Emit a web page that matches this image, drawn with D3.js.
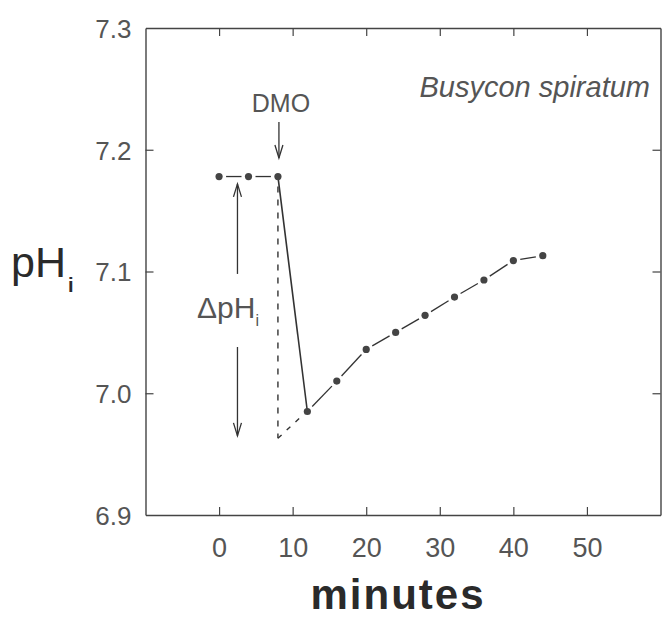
<!DOCTYPE html>
<html><head><meta charset="utf-8">
<script src="https://cdn.jsdelivr.net/npm/d3@7/dist/d3.min.js"></script>
<style>
body{margin:0;background:#fff;}
svg{display:block;}
</style></head>
<body>
<svg id="chart" width="662" height="619"></svg>
<script>
// ---- data ----
const minutes = [0, 4, 8, 12, 16, 20, 24, 28, 32, 36, 40, 44];
const phValues = [7.178, 7.178, 7.178, 6.985, 7.010, 7.036, 7.050, 7.064, 7.079, 7.093, 7.109, 7.113];
const xTicks = [0, 10, 20, 30, 40, 50];
const yTicks = [6.9, 7.0, 7.1, 7.2, 7.3];
const yInnerTicks = [7.0, 7.1, 7.2];
// annotation values (data units)
const dmoTime = 8;
const extrapStart = [8, 6.963];
const deltaArrowX = 2.5;
const deltaUp = [7.098, 7.172];     // shaft start, tip
const deltaDown = [7.038, 6.965];   // shaft start, tip

const svg = d3.select("#chart");
const x = d3.scaleLinear().domain([-10, 60]).range([145.5, 660.5]);
const y = d3.scaleLinear().domain([6.9, 7.3]).range([515, 28]);

const ink = "#333";
const labelFill = "#555";
const fontTick = "'Liberation Sans', Arial, sans-serif";

function styleAxis(g){
  g.selectAll("path.domain").attr("stroke", "#444").attr("stroke-width", 1.4);
  g.selectAll(".tick line").attr("stroke", "#444").attr("stroke-width", 1.2);
  g.selectAll("text").attr("fill", labelFill).attr("font-family", fontTick).attr("font-size", 26);
}

// axes (frame)
svg.append("g").attr("transform", `translate(0,${y(6.9)})`)
  .call(d3.axisBottom(x).tickValues(xTicks).tickSize(-8).tickSizeOuter(0).tickPadding(23).tickFormat(d3.format("d")))
  .call(styleAxis)
  .call(g => g.selectAll("text").attr("font-size", 27));
svg.append("g").attr("transform", `translate(0,${y(7.3)})`)
  .call(d3.axisTop(x).tickValues(xTicks).tickSize(-8).tickSizeOuter(0).tickFormat(""))
  .call(styleAxis);
svg.append("g").attr("transform", `translate(${x(-10)},0)`)
  .call(d3.axisLeft(y).tickValues(yTicks).tickSize(-8).tickSizeOuter(0).tickPadding(14).tickFormat(d3.format(".1f")))
  .call(styleAxis)
  .call(g => g.selectAll(".tick").filter(d => !yInnerTicks.includes(d)).select("line").remove())
  .call(g => g.selectAll("text").attr("dy", "0.36em"));
svg.append("g").attr("transform", `translate(${x(60)},0)`)
  .call(d3.axisRight(y).tickValues(yInnerTicks).tickSize(-8).tickSizeOuter(0).tickFormat(""))
  .call(styleAxis);

// data segments
const pts = minutes.map((m, i) => ({x: x(m), y: y(phValues[i])}));
const segs = d3.pairs(pts).map(([a, b], i) => ({a, b, solid: i === 2}));
const gap = 7;
svg.append("g").selectAll("line").data(segs).join("line")
  .each(function(s){
    const dx = s.b.x - s.a.x, dy = s.b.y - s.a.y, L = Math.hypot(dx, dy);
    const g0 = s.solid ? 0 : gap, ux = dx / L, uy = dy / L;
    d3.select(this)
      .attr("x1", s.a.x + ux * g0).attr("y1", s.a.y + uy * g0)
      .attr("x2", s.b.x - ux * g0).attr("y2", s.b.y - uy * g0);
  })
  .attr("stroke", ink).attr("stroke-width", s => s.solid ? 1.6 : 1.3);

// vertical dashed line at DMO time
svg.append("line")
  .attr("x1", x(dmoTime)).attr("x2", x(dmoTime))
  .attr("y1", y(phValues[2]) + 10).attr("y2", y(extrapStart[1]))
  .attr("stroke", ink).attr("stroke-width", 1.4).attr("stroke-dasharray", "6,7");

// extrapolated dashed line back to DMO time
svg.append("line")
  .attr("x1", x(extrapStart[0])).attr("y1", y(extrapStart[1]))
  .attr("x2", x(minutes[3]) - 5).attr("y2", y(phValues[3]) + 4)
  .attr("stroke", ink).attr("stroke-width", 1.4).attr("stroke-dasharray", "5,7");

// points
svg.append("g").selectAll("circle").data(pts).join("circle")
  .attr("cx", d => d.x).attr("cy", d => d.y).attr("r", 3.6).attr("fill", "#444");

// arrows
function arrow(x0, y0, y1){
  const dir = y1 > y0 ? 1 : -1;
  const g = svg.append("g").attr("stroke", ink).attr("stroke-width", 1.3).attr("fill", "none");
  g.append("line").attr("x1", x0).attr("x2", x0).attr("y1", y0).attr("y2", y1);
  g.append("path").attr("d", `M${x0-4},${y1 - dir*13} L${x0},${y1} L${x0+4},${y1 - dir*13}`);
}
arrow(x(dmoTime) + 1, 122, 158);
arrow(x(deltaArrowX), y(deltaUp[0]), y(deltaUp[1]));
arrow(x(deltaArrowX), y(deltaDown[0]), y(deltaDown[1]));

// text annotations
svg.append("text").attr("x", x(dmoTime) + 3).attr("y", 112).attr("text-anchor", "middle")
  .attr("font-family", fontTick).attr("font-size", 25).attr("fill", labelFill).text("DMO");

const dl = svg.append("text").attr("x", 197).attr("y", 318)
  .attr("font-family", fontTick).attr("font-size", 30).attr("fill", labelFill);
dl.append("tspan").text("\u0394pH");
dl.append("tspan").attr("font-size", 16).attr("dy", 8).text("i");

svg.append("text").attr("x", 650).attr("y", 97).attr("text-anchor", "end")
  .attr("font-family", fontTick).attr("font-style", "italic").attr("font-size", 29)
  .attr("fill", labelFill).text("Busycon spiratum");

// axis titles
const yt = svg.append("text").attr("x", 11).attr("y", 277)
  .attr("font-family", fontTick).attr("font-size", 43).attr("fill", "#2a2a2a");
yt.append("tspan").text("pH");
yt.append("tspan").attr("font-size", 20).attr("font-weight", "bold").attr("dy", 15).attr("dx", 2).text("i");

svg.append("text").attr("x", 398).attr("y", 609).attr("text-anchor", "middle")
  .attr("font-family", fontTick).attr("font-weight", "bold").attr("font-size", 42)
  .attr("letter-spacing", 2).attr("fill", "#2a2a2a").text("minutes");
</script>
</body></html>
